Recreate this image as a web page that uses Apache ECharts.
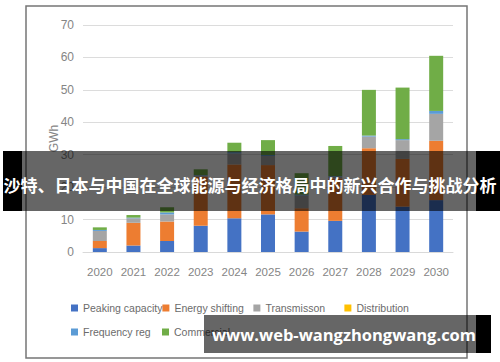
<!DOCTYPE html>
<html>
<head>
<meta charset="utf-8">
<script src="https://cdn.jsdelivr.net/npm/echarts@6/dist/echarts.min.js"></script>
<style>html,body{margin:0;padding:0;background:#fff;}#c{width:500px;height:362px;}</style>
</head>
<body>
<div id="c"></div>
<script>
var years = ['2020','2021','2022','2023','2024','2025','2026','2027','2028','2029','2030'];
var peakingCapacity = [1.2, 2.0, 3.4, 8.1, 10.4, 11.6, 6.3, 9.6, 17.6, 14.0, 16.0];
var energyShifting  = [2.2, 7.0, 6.0, 15.1, 16.6, 15.2, 7.2, 13.1, 14.4, 14.7, 18.3];
var transmission    = [3.1, 1.4, 2.2, 0.3, 3.4, 2.8, 3.9, 0.5, 3.6, 5.8, 8.3];
var distribution    = [0, 0, 0, 0, 0, 0, 0, 0, 0, 0, 0];
var frequencyReg    = [0.3, 0.2, 0.6, 0.2, 0.4, 0.3, 0.3, 0.2, 0.3, 0.3, 0.9];
var commercial      = [0.8, 0.8, 1.6, 1.8, 2.9, 4.6, 6.6, 9.3, 14.1, 15.9, 17.0];
var seriesNames = ['Peaking capacity','Energy shifting','Transmisson','Distribution','Frequency reg','Commercial'];
var yTicks = [0, 10, 20, 30, 40, 50, 60, 70];
var bannerText = '沙特、日本与中国在全球能源与经济格局中的新兴合作与挑战分析';
var urlText = 'www.web-wangzhongwang.com';

var colors = ['#4472C4','#ED7D31','#A5A5A5','#FFC000','#5B9BD5','#70AD47'];
var dataSets = [peakingCapacity, energyShifting, transmission, distribution, frequencyReg, commercial];
var font = '"Liberation Sans", Arial, sans-serif';

var chart = echarts.init(document.getElementById('c'), null, {renderer: 'svg'});
chart.setOption({
  animation: false,
  color: colors,
  grid: {left: 83, right: 47, top: 25, bottom: 110},
  legend: {
    left: 66, top: 291, width: 372,
    itemWidth: 7, itemHeight: 7, itemGap: 0,
    icon: 'rect',
    textStyle: {fontFamily: font, fontSize: 10.5, color: '#6b6b6b', width: 79, overflow: 'none', lineHeight: 24},
    data: seriesNames
  },
  xAxis: {
    type: 'category', data: years,
    axisLine: {lineStyle: {color: '#d9d9d9'}},
    axisTick: {show: false},
    axisLabel: {fontFamily: font, fontSize: 11.5, color: '#858585', margin: 14, interval: 0}
  },
  yAxis: {
    type: 'value', min: yTicks[0], max: yTicks[yTicks.length-1], interval: 10,
    name: 'GWh', nameLocation: 'middle', nameGap: 23, nameRotate: 90, nameMoveOverlap: false,
    nameTextStyle: {fontFamily: font, fontSize: 12, color: '#858585'},
    axisLine: {show: false}, axisTick: {show: false},
    splitLine: {lineStyle: {color: '#dcdcdc', width: 1}},
    axisLabel: {fontFamily: font, fontSize: 12, color: '#858585', margin: 9}
  },
  series: seriesNames.map(function(n, i){
    return {name: n, type: 'bar', stack: 'total', barWidth: 14, data: dataSets[i],
            itemStyle: {color: colors[i]}};
  }),
  graphic: [
    {type: 'rect', z: 100, shape: {x: 26, y: 6, width: 441, height: 352}, style: {fill: 'none', stroke: '#767676', lineWidth: 1.5}},
    {type: 'rect', z: 100, shape: {x: 3, y: 151, width: 19, height: 60}, style: {fill: '#000'}},
    {type: 'rect', z: 100, shape: {x: 22, y: 151, width: 454, height: 60}, style: {fill: 'rgba(0,0,0,0.6)'}},
    {type: 'rect', z: 100, shape: {x: 476, y: 151, width: 24, height: 60}, style: {fill: '#000'}},
    {type: 'text', z: 101, x: 250, y: 184, style: {text: bannerText, fill: '#fff', font: 'bold 17px "Noto Sans CJK SC", sans-serif', textAlign: 'center', textVerticalAlign: 'middle'}},
    {type: 'rect', z: 100, shape: {x: 204, y: 315, width: 272, height: 38}, style: {fill: 'rgba(0,0,0,0.6)'}},
    {type: 'rect', z: 100, shape: {x: 476, y: 315, width: 15, height: 38}, style: {fill: '#000'}},
    {type: 'text', z: 101, x: 344, y: 334, style: {text: urlText, fill: '#fff', font: 'bold 16.5px "Open Sans", "Noto Sans", sans-serif', textAlign: 'center', textVerticalAlign: 'middle'}}
  ]
});
</script>
</body>
</html>
